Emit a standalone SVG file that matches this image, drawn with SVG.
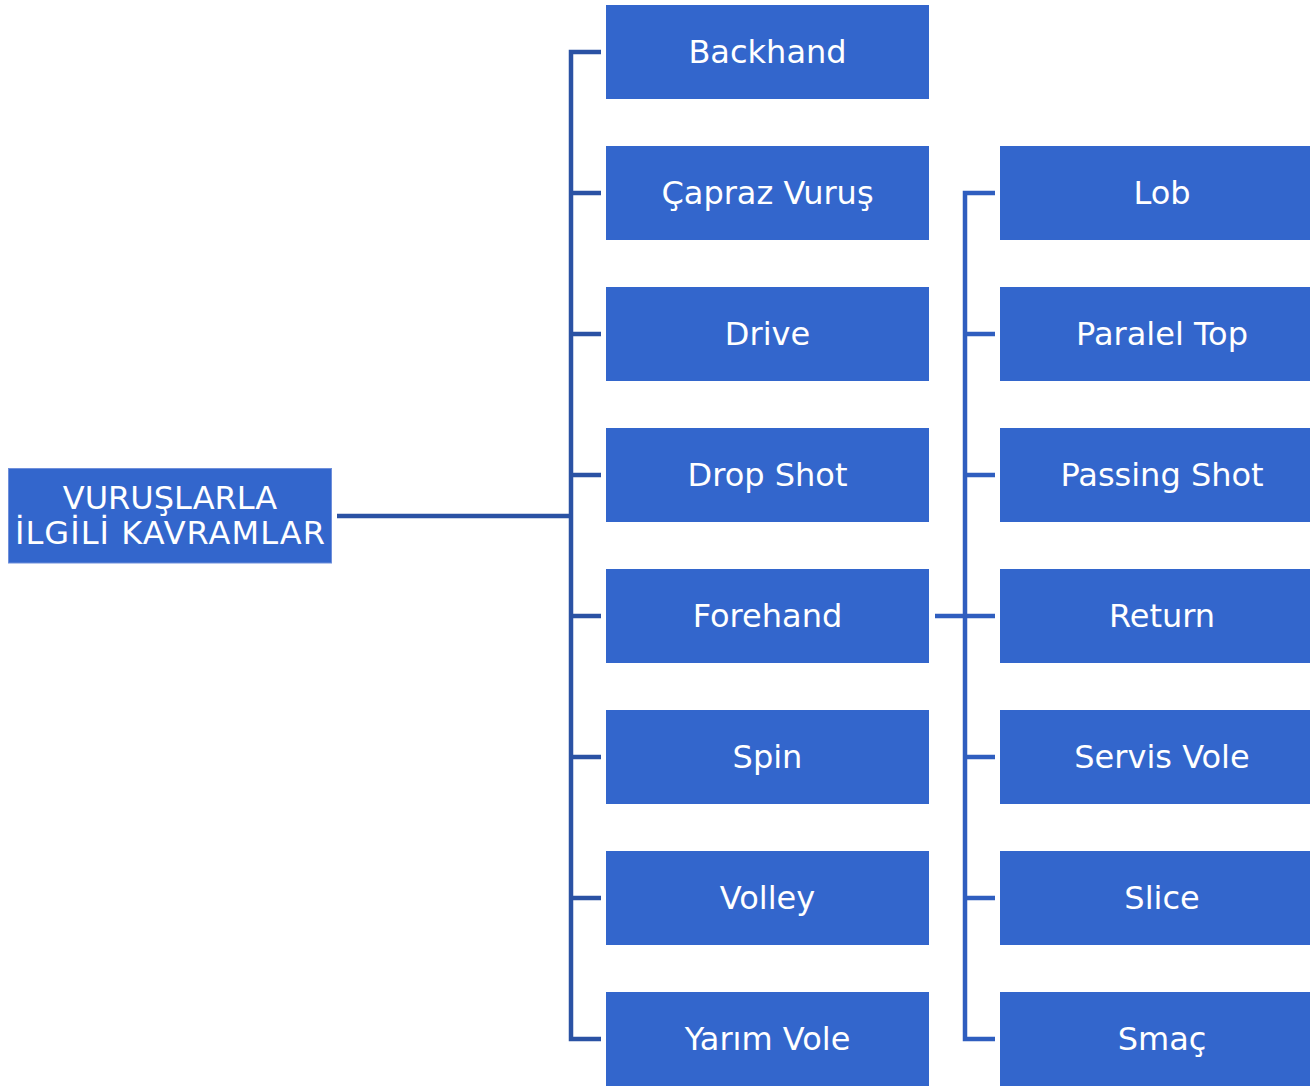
<svg xmlns="http://www.w3.org/2000/svg" width="1310" height="1090" viewBox="0 0 1310 1090">
<style>
.box{fill:#3366CC;}
.t{fill:#ffffff;font-family:"DejaVu Sans",Verdana,sans-serif;font-size:32px;text-anchor:middle;}
.r{fill:#ffffff;font-family:"DejaVu Sans",Verdana,sans-serif;font-size:32px;text-anchor:middle;}
.c1{stroke:#2A52A4;stroke-width:4.5;fill:none;}
.c2{stroke:#2F5EBF;stroke-width:4.5;fill:none;}
</style>
<rect width="1310" height="1090" fill="#ffffff"/>
<g id="connectors">
<path class="c1" d="M337 516H571M601 52H571V1039H601M571 193H601M571 334H601M571 475H601M571 616H601M571 757H601M571 898H601"/>
<path class="c2" d="M935 616H995M995 193H965V1039H995M965 334H995M965 475H995M965 757H995M965 898H995"/>
</g>
<g id="root"><rect class="box" x="8.5" y="468.5" width="323" height="94.5" stroke="#6F8FDB" stroke-width="1"/><text class="r" x="170" y="509">VURUŞLARLA</text><text class="r" x="170" y="544" textLength="310" lengthAdjust="spacing">İLGİLİ KAVRAMLAR</text></g>
<g id="backhand"><rect class="box" x="606" y="5" width="323" height="94"/><text class="t" x="767.5" y="63">Backhand</text></g>
<g id="capraz"><rect class="box" x="606" y="146" width="323" height="94"/><text class="t" x="767.5" y="204">Çapraz Vuruş</text></g>
<g id="drive"><rect class="box" x="606" y="287" width="323" height="94"/><text class="t" x="767.5" y="345">Drive</text></g>
<g id="dropshot"><rect class="box" x="606" y="428" width="323" height="94"/><text class="t" x="767.5" y="486">Drop Shot</text></g>
<g id="forehand"><rect class="box" x="606" y="569" width="323" height="94"/><text class="t" x="767.5" y="627">Forehand</text></g>
<g id="spin"><rect class="box" x="606" y="710" width="323" height="94"/><text class="t" x="767.5" y="768">Spin</text></g>
<g id="volley"><rect class="box" x="606" y="851" width="323" height="94"/><text class="t" x="767.5" y="909">Volley</text></g>
<g id="yarimvole"><rect class="box" x="606" y="992" width="323" height="94"/><text class="t" x="767.5" y="1050">Yarım Vole</text></g>
<g id="lob"><rect class="box" x="1000" y="146" width="310" height="94"/><text class="t" x="1162" y="204">Lob</text></g>
<g id="paraleltop"><rect class="box" x="1000" y="287" width="310" height="94"/><text class="t" x="1162" y="345">Paralel Top</text></g>
<g id="passingshot"><rect class="box" x="1000" y="428" width="310" height="94"/><text class="t" x="1162" y="486">Passing Shot</text></g>
<g id="return"><rect class="box" x="1000" y="569" width="310" height="94"/><text class="t" x="1162" y="627">Return</text></g>
<g id="servisvole"><rect class="box" x="1000" y="710" width="310" height="94"/><text class="t" x="1162" y="768">Servis Vole</text></g>
<g id="slice"><rect class="box" x="1000" y="851" width="310" height="94"/><text class="t" x="1162" y="909">Slice</text></g>
<g id="smac"><rect class="box" x="1000" y="992" width="310" height="94"/><text class="t" x="1162" y="1050">Smaç</text></g>
</svg>
